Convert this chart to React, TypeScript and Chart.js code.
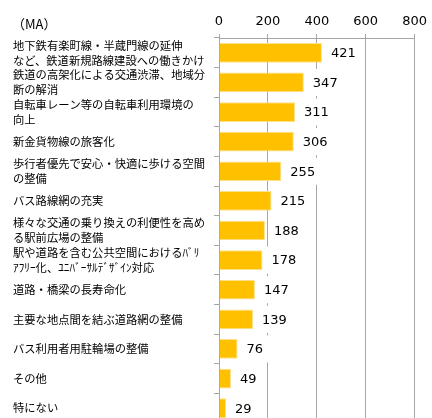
import React, { useEffect, useRef } from "react";
import { Chart, registerables } from "chart.js";

Chart.register(...registerables);

const categories: string[][] = [
  ["地下鉄有楽町線・半蔵門線の延伸", "など、鉄道新規路線建設への働きかけ"],
  ["鉄道の高架化による交通渋滞、地域分", "断の解消"],
  ["自転車レーン等の自転車利用環境の", "向上"],
  ["新金貨物線の旅客化"],
  ["歩行者優先で安心・快適に歩ける空間", "の整備"],
  ["バス路線網の充実"],
  ["様々な交通の乗り換えの利便性を高め", "る駅前広場の整備"],
  ["駅や道路を含む公共空間におけるﾊﾞﾘ", "ｱﾌﾘｰ化、ﾕﾆﾊﾞｰｻﾙﾃﾞｻﾞｲﾝ対応"],
  ["道路・橋梁の長寿命化"],
  ["主要な地点間を結ぶ道路網の整備"],
  ["バス利用者用駐輪場の整備"],
  ["その他"],
  ["特にない"],
];

const values: number[] = [421, 347, 311, 306, 255, 215, 188, 178, 147, 139, 76, 49, 29];

const axisMin = 0;
const axisMax = 800;
const axisStep = 200;
const unitLabel = "（MA）";

const GRID = "#a6a6a6";
const BAR = "#FFC000";

const valueLabelPlugin = {
  id: "valueLabels",
  afterDatasetsDraw(chart: any) {
    const ctx = chart.ctx;
    const meta = chart.getDatasetMeta(0);
    ctx.save();
    ctx.font = '13px "DejaVu Sans"';
    ctx.textBaseline = "middle";
    ctx.textAlign = "left";
    meta.data.forEach((bar: any, i: number) => {
      const text = String(values[i]);
      const x = bar.x + 9;
      const y = bar.y;
      const w = ctx.measureText(text).width;
      ctx.fillStyle = "#ffffff";
      ctx.fillRect(x - 5, y - 13.5, w + 10, 27);
      ctx.fillStyle = "#000000";
      ctx.fillText(text, x, y + 1);
    });
    ctx.restore();
  },
};

const unitPlugin = {
  id: "unitLabel",
  afterDraw(chart: any) {
    const ctx = chart.ctx;
    ctx.save();
    ctx.font = '13px "Noto Sans CJK JP"';
    ctx.fillStyle = "#000000";
    ctx.textBaseline = "middle";
    ctx.textAlign = "left";
    ctx.fillText(unitLabel, 12, 24);
    ctx.restore();
  },
};

export default function App() {
  const ref = useRef<HTMLCanvasElement | null>(null);

  useEffect(() => {
    if (!ref.current) return;
    const chart = new Chart(ref.current, {
      type: "bar",
      data: {
        labels: categories,
        datasets: [
          {
            data: values,
            backgroundColor: BAR,
            borderColor: "#FFE08A",
            borderWidth: 1,
            barPercentage: 0.665,
            categoryPercentage: 1,
          },
        ],
      },
      options: {
        indexAxis: "y",
        responsive: false,
        animation: false,
        devicePixelRatio: 1,
        layout: { padding: { left: 13, top: 14, right: 0, bottom: 1 } },
        plugins: {
          legend: { display: false },
          tooltip: { enabled: false },
        },
        scales: {
          x: {
            position: "top",
            min: axisMin,
            max: axisMax,
            ticks: {
              stepSize: axisStep,
              color: "#000000",
              padding: 5,
              font: { family: "DejaVu Sans", size: 13 },
            },
            grid: {
              color: GRID,
              lineWidth: 1,
              tickLength: 4,
              drawTicks: true,
            },
            border: { display: true, color: GRID, width: 1 },
            afterFit: (scale: any) => {
              scale.height = 24;
            },
          },
          y: {
            position: "left",
            ticks: {
              crossAlign: "far",
              color: "#000000",
              autoSkip: false,
              font: { family: "Noto Sans CJK JP", size: 11.3, lineHeight: "15px" },
            },
            grid: {
              drawOnChartArea: false,
              drawTicks: true,
              tickLength: 5,
              color: GRID,
              offset: true,
            },
            border: { display: true, color: GRID, width: 1 },
            afterFit: (scale: any) => {
              scale.width = 206;
              scale.paddingTop = 0;
              scale.paddingBottom = 0;
            },
          },
        },
      },
      plugins: [valueLabelPlugin, unitPlugin],
    });
    return () => chart.destroy();
  }, []);

  return (
    <div
      style={{
        position: "absolute",
        left: 0,
        top: 0,
        width: 432,
        height: 418,
        overflow: "hidden",
        background: "#ffffff",
      }}
    >
      <canvas ref={ref} width={432} height={424} style={{ display: "block", width: 432, height: 424 }} />
    </div>
  );
}
